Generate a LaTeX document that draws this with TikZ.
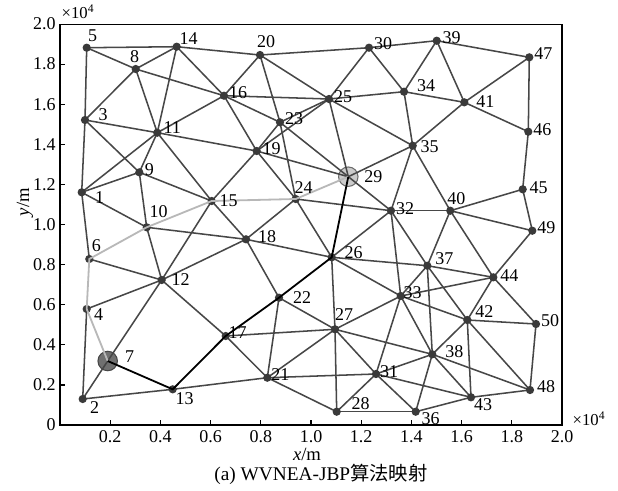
\documentclass[tikz,border=0pt]{standalone}
\usepackage{fontspec}
\setmainfont{Liberation Serif}
\newfontfamily\cjkfont{Noto Sans CJK SC}
\definecolor{edgecol}{HTML}{474747}
\definecolor{dotcol}{HTML}{3A3A3A}
\definecolor{pathgrey}{HTML}{B8B8B8}
\definecolor{bigdark}{HTML}{707070}
\definecolor{biglight}{HTML}{CBCBCB}
\begin{document}
\begin{tikzpicture}[x=0.75pt,y=-0.75pt,
  edge/.style={draw=edgecol,line width=1.15pt},
  greypath/.style={draw=pathgrey,line width=1.35pt},
  blackpath/.style={draw=black,line width=1.35pt},
  lab/.style={inner sep=0pt,font=\fontsize{13.5}{15}\selectfont},
  ticklab/.style={inner sep=0pt,font=\fontsize{13.5}{15}\selectfont},
  axis/.style={draw=black,line width=1.2pt}]
\useasboundingbox (0,0) rectangle (618,490);
\fill[white] (0,0) rectangle (618,490);
% node positions
\coordinate (n1) at (81.7,192.3);
\coordinate (n2) at (82.7,399);
\coordinate (n3) at (85,120);
\coordinate (n4) at (86.7,309);
\coordinate (n5) at (86.7,47.7);
\coordinate (n6) at (89.3,259);
\coordinate (n7) at (107.7,361);
\coordinate (n8) at (135.7,69);
\coordinate (n9) at (139.3,172.3);
\coordinate (n10) at (146.7,227.3);
\coordinate (n11) at (157.3,132.7);
\coordinate (n12) at (161.7,280);
\coordinate (n13) at (172.7,389.3);
\coordinate (n14) at (176.7,46.7);
\coordinate (n15) at (211.7,201);
\coordinate (n16) at (224,95.7);
\coordinate (n17) at (225.7,336);
\coordinate (n18) at (246,239.3);
\coordinate (n19) at (256.7,151);
\coordinate (n20) at (260,55);
\coordinate (n21) at (267.3,377.7);
\coordinate (n22) at (279,297.7);
\coordinate (n23) at (280,122.3);
\coordinate (n24) at (295.7,199);
\coordinate (n25) at (329,99);
\coordinate (n26) at (331.7,257.3);
\coordinate (n27) at (335,329.3);
\coordinate (n28) at (336.7,411.7);
\coordinate (n29) at (348.3,176.7);
\coordinate (n30) at (369,47.7);
\coordinate (n31) at (376,374);
\coordinate (n32) at (391,210.7);
\coordinate (n33) at (400.7,296);
\coordinate (n34) at (404,91.7);
\coordinate (n35) at (412.7,145.7);
\coordinate (n36) at (415.7,411.7);
\coordinate (n37) at (427.3,265.7);
\coordinate (n38) at (432.3,354.3);
\coordinate (n39) at (436.7,40.7);
\coordinate (n40) at (450.3,210.7);
\coordinate (n41) at (464.3,102.3);
\coordinate (n42) at (467.3,320);
\coordinate (n43) at (471,397.3);
\coordinate (n44) at (493.3,277.3);
\coordinate (n45) at (522.7,189.3);
\coordinate (n46) at (528.3,131.7);
\coordinate (n47) at (529.3,57.3);
\coordinate (n48) at (530,390);
\coordinate (n49) at (532.3,230.7);
\coordinate (n50) at (536,324);
% axes frame
\draw[axis] (60,24.3) rectangle (562,425);
\foreach \v in {1,...,9} \draw[axis,line width=0.9pt] (60+50.2*\v,425) -- ++(0,-5);
\foreach \v in {1,...,9} \draw[axis,line width=0.9pt] (60,425-40.1*\v) -- ++(5,0);
\foreach \v/\t in {1/0.2,2/0.4,3/0.6,4/0.8,5/1.0,6/1.2,7/1.4,8/1.6,9/1.8,10/2.0}
  \node[ticklab] at (60+50.2*\v,437) {\t};
\foreach \v/\t in {0/0,1/0.2,2/0.4,3/0.6,4/0.8,5/1.0,6/1.2,7/1.4,8/1.6,9/1.8,10/2.0}
  \node[ticklab,anchor=east] at (56,425-40.1*\v) {\t};
\node[inner sep=0pt,font=\fontsize{12.5}{14}\selectfont] at (78,12) {×10\textsuperscript{4}};
\node[inner sep=0pt,font=\fontsize{12.5}{14}\selectfont] at (589,419) {×10\textsuperscript{4}};
\node[inner sep=0pt,font=\fontsize{14}{16}\selectfont] at (307,454) {\textit{x}/m};
\node[inner sep=0pt,font=\fontsize{14}{16}\selectfont,rotate=90] at (25,202) {\textit{y}/m};
\node[inner sep=0pt,font=\fontsize{14.5}{17}\selectfont] at (321,474) {(a) WVNEA-JBP{\cjkfont 算法映射}};
% big end-point circles
\filldraw[fill=bigdark,draw=edgecol,line width=0.8pt] (n7) circle (7.3pt);
\filldraw[fill=biglight,draw=edgecol!80,line width=0.8pt] (n29) circle (7.3pt);
% regular links
\foreach \a/\b in {1/3,1/9,1/10,1/11,1/6,2/4,2/7,2/13,3/5,3/8,3/9,3/11,4/12,5/8,5/14,6/12,7/12,
  8/14,8/11,8/16,9/11,9/10,9/15,10/12,10/18,11/14,11/15,11/16,11/19,12/15,12/18,12/17,13/21,
  14/16,14/20,15/18,15/19,16/19,16/20,16/23,16/25,17/21,17/27,18/22,18/24,18/26,
  19/23,19/24,19/25,19/29,20/23,20/25,20/30,21/22,21/27,21/28,21/31,22/27,
  23/24,23/25,23/29,24/26,24/32,25/29,25/30,25/34,25/35,26/27,26/32,26/33,26/37,
  27/28,27/31,27/33,27/38,28/31,28/36,29/32,29/35,30/34,30/39,31/33,31/36,31/38,31/43,
  32/33,32/35,32/37,32/40,33/37,33/38,33/42,33/44,34/35,34/39,34/41,35/40,35/41,
  36/38,36/43,37/38,37/40,37/42,37/44,38/42,38/43,38/48,39/41,39/47,40/44,40/45,40/49,
  41/46,41/47,42/43,42/44,42/48,42/50,43/48,44/49,44/50,45/46,45/49,46/47,48/50}
  \draw[edge] (n\a) -- (n\b);
% sensor dots
\foreach \i in {1,...,6,8,9,...,28,30,31,...,50} \fill[dotcol] (n\i) circle (3.1pt);
% routes
\draw[greypath] (n7) -- (n4) -- (n6) -- (n10) -- (n15) -- (n24) -- (n29);
\draw[blackpath] (n7) -- (n13) -- (n17) -- (n22) -- (n26) -- (n29);
% labels
\foreach \i/\dx/\dy in {1/18/5,2/12/9,3/18/-5,4/12/6,5/6/-12,6/7/-13,7/22/-4,8/-1/-12,9/10/-3,
  10/12/-16,11/15/-5,12/19/0,13/12/9,14/12/-8,15/17/0,16/14/-3,17/12/-3,18/21/-3,19/15/-2,
  20/6/-13,21/13/-3,22/23/0,23/14/-4,24/8/-11,25/14/-2,26/22/-5,27/9/-15,28/24/-8,29/25/0,
  30/14/-4,31/13/-2,32/14/-2,33/12/-3,34/22/-6,35/17/1,36/15/7,37/17/-7,38/22/-3,39/15/-3,
  40/6/-12,41/21/-1,42/17/-8,43/12/7,44/16/-2,45/16/-2,46/14/-2,47/14/-4,48/16/-3,49/14/-3,50/14/-3}
  \path (n\i) ++(\dx,\dy) node[lab] {\i};
\end{tikzpicture}
\end{document}
